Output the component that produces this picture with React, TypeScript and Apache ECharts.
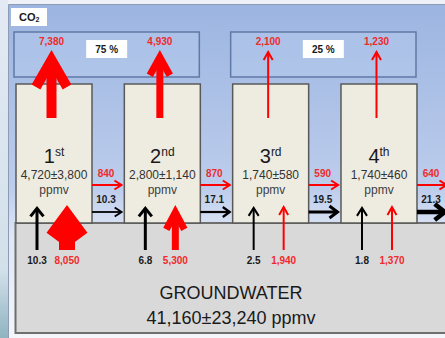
import React, { useEffect, useRef } from "react";
import * as echarts from "echarts";

// ---- data ----
const stageNumbers = ["1", "2", "3", "4"];
const stageSuffixes = ["st", "nd", "rd", "th"];
const stageMeanPpmv = [4720, 2800, 1740, 1740];
const stageSdPpmv = [3800, 1140, 580, 460];
const emissionCO2 = [7380, 4930, 2100, 1230];
const groundFlow = [10.3, 6.8, 2.5, 1.8];
const groundCO2 = [8050, 5300, 1940, 1370];
const transferFlow = [10.3, 17.1, 19.5, 21.3];
const transferCO2 = [840, 870, 590, 640];
const groupShares = [75, 25];
const groundwaterMean = 41160;
const groundwaterSd = 23240;
const gasLabel = "CO";
const gasSub = "2";

// ---- layout ----
const W = 445;
const H = 338;
const FONT = "'Liberation Sans', Arial, sans-serif";
const X0 = 16;
const STEP = 108.33;
const BOX_W = 76;
const BOX_TOP = 84;
const GROUND_TOP = 223;
const RED = "#ff0000";
const RED_TXT = "#f02a2a";

const fmt = (v: number) => v.toLocaleString("en-US");
const stageLeft = (i: number) => X0 + i * STEP;

function txt(api: any, x: number, y: number, text: string, fill: string, font: string, align = "center") {
  const c = api.coord([x, y]);
  return {
    type: "text",
    x: c[0],
    y: c[1],
    style: {
      text,
      fill,
      font,
      align,
      textAlign: align,
      verticalAlign: "middle",
      textVerticalAlign: "middle",
    },
  };
}

function arrow(api: any, from: number[], to: number[], w: number, armLen: number, armHalf: number, color: string) {
  const dx = to[0] - from[0];
  const dy = to[1] - from[1];
  const len = Math.hypot(dx, dy);
  const ux = dx / len;
  const uy = dy / len;
  const nx = -uy;
  const ny = ux;
  const half = Math.atan2(armHalf, armLen);
  const ext = w / 2 / Math.sin(half);
  const apex = [to[0] - ux * ext, to[1] - uy * ext];
  const base = [apex[0] - ux * armLen, apex[1] - uy * armLen];
  const a1 = [base[0] + nx * armHalf, base[1] + ny * armHalf];
  const a2 = [base[0] - nx * armHalf, base[1] - ny * armHalf];
  const c = (p: number[]) => api.coord(p);
  return [
    {
      type: "polyline",
      shape: { points: [c(from), c(apex)] },
      style: { stroke: color, lineWidth: w, fill: "none", lineCap: "butt" },
    },
    {
      type: "polyline",
      shape: { points: [c(a1), c(apex), c(a2)] },
      style: { stroke: color, lineWidth: w, fill: "none", lineJoin: "miter", miterLimit: 10, lineCap: "butt" },
    },
  ];
}

function redSpec(v: number, kind: "up" | "ground") {
  if (v >= 7000) return kind === "up" ? { w: 10, armLen: 27, armHalf: 15.5 } : { w: 16, armLen: 19, armHalf: 14 };
  if (v >= 4000) return kind === "up" ? { w: 7, armLen: 18, armHalf: 10 } : { w: 7, armLen: 17, armHalf: 9 };
  return { w: 2, armLen: 8, armHalf: 4.5 };
}

function blackTransferSpec(v: number) {
  if (v >= 21) return { w: 4.5, armLen: 10, armHalf: 8 };
  if (v >= 19) return { w: 3, armLen: 8, armHalf: 6 };
  if (v >= 15) return { w: 2.2, armLen: 7, armHalf: 5 };
  return { w: 1.8, armLen: 7, armHalf: 4.5 };
}

function buildOption() {
  const bold10 = `bold 10px ${FONT}`;
  return {
    animation: false,
    grid: { left: 0, top: 0, right: 0, bottom: 0 },
    xAxis: { type: "value", min: 0, max: W, show: false },
    yAxis: { type: "value", min: 0, max: H, inverse: true, show: false },
    graphic: [
      { type: "rect", shape: { x: 0, y: 0, width: W, height: H }, style: { fill: "#eef2f8" } },
      {
        type: "rect",
        shape: { x: 0, y: 0, width: 8, height: H },
        style: {
          fill: new echarts.graphic.LinearGradient(0, 0, 0, 1, [
            { offset: 0, color: "#e3eaf4" },
            { offset: 0.8, color: "#d2e0ea" },
            { offset: 1, color: "#8fb4c0" },
          ]),
        },
      },
      {
        type: "rect",
        shape: { x: 8.5, y: 4.5, width: W, height: H },
        style: {
          fill: new echarts.graphic.LinearGradient(0, 0, 0, 1, [
            { offset: 0, color: "#9cb5e1" },
            { offset: 0.55, color: "#bdcdec" },
            { offset: 0.68, color: "#dfe7f5" },
            { offset: 1, color: "#f4f6fa" },
          ]),
          stroke: "#8d9cb4",
          lineWidth: 1,
        },
      },
      { type: "rect", shape: { x: 11, y: 8, width: 36, height: 18 }, style: { fill: "#ffffff" } },
      {
        type: "text",
        x: 19,
        y: 17,
        style: {
          text: `{a|${gasLabel}}{b|${gasSub}}`,
          verticalAlign: "middle",
          textVerticalAlign: "middle",
          rich: {
            a: { font: `bold 11px ${FONT}`, fill: "#1a1a1a" },
            b: { font: `bold 7px ${FONT}`, fill: "#1a1a1a", verticalAlign: "bottom" },
          },
        },
      },
      {
        type: "rect",
        shape: { x: 15.5, y: GROUND_TOP, width: W, height: 110 },
        style: { fill: "#d9d9d9", stroke: "#6e6e6e", lineWidth: 2 },
      },
      {
        type: "text",
        x: 231,
        y: 293,
        style: {
          text: "GROUNDWATER",
          font: `18px ${FONT}`,
          fill: "#1a1a1a",
          align: "center",
          textAlign: "center",
          verticalAlign: "middle",
          textVerticalAlign: "middle",
        },
      },
      {
        type: "text",
        x: 231,
        y: 318,
        style: {
          text: `${fmt(groundwaterMean)}±${fmt(groundwaterSd)} ppmv`,
          font: `18px ${FONT}`,
          fill: "#1a1a1a",
          align: "center",
          textAlign: "center",
          verticalAlign: "middle",
          textVerticalAlign: "middle",
        },
      },
    ],
    series: [
      {
        type: "custom",
        name: "groups",
        z: 2,
        data: groupShares.map((v, g) => [g, v]),
        renderItem: (params: any, api: any) => {
          const g = api.value(0);
          const share = api.value(1);
          const x1 = stageLeft(2 * g) - 2;
          const x2 = stageLeft(2 * g + 1) + BOX_W - 1;
          const p0 = api.coord([x1, 32]);
          const p1 = api.coord([x2, 77]);
          const cx = (x1 + x2) / 2;
          const q0 = api.coord([cx - 20.5, 40]);
          const q1 = api.coord([cx + 20.5, 58]);
          return {
            type: "group",
            children: [
              {
                type: "rect",
                shape: { x: p0[0], y: p0[1], width: p1[0] - p0[0], height: p1[1] - p0[1] },
                style: { fill: "rgba(190,208,240,0.35)", stroke: "#5f7aa6", lineWidth: 1.5 },
              },
              {
                type: "rect",
                shape: { x: q0[0], y: q0[1], width: q1[0] - q0[0], height: q1[1] - q0[1] },
                style: { fill: "#ffffff" },
              },
              txt(api, cx, 49, `${share} %`, "#1a1a1a", bold10),
            ],
          };
        },
      },
      {
        type: "custom",
        name: "stages",
        z: 2,
        data: stageMeanPpmv.map((v, i) => [i, v, stageSdPpmv[i]]),
        renderItem: (params: any, api: any) => {
          const i = api.value(0);
          const L = stageLeft(i);
          const p0 = api.coord([L, BOX_TOP]);
          const p1 = api.coord([L + BOX_W, GROUND_TOP]);
          const cx = L + BOX_W / 2;
          const oc = api.coord([cx, 156]);
          return {
            type: "group",
            children: [
              {
                type: "rect",
                shape: { x: p0[0], y: p0[1], width: p1[0] - p0[0], height: p1[1] - p0[1] },
                style: { fill: "#eeece1", stroke: "#595959", lineWidth: 1.5 },
              },
              {
                type: "text",
                x: oc[0],
                y: oc[1],
                style: {
                  text: `{n|${stageNumbers[i]}}{s|${stageSuffixes[i]}}`,
                  align: "center",
                  textAlign: "center",
                  verticalAlign: "middle",
                  textVerticalAlign: "middle",
                  rich: {
                    n: { font: `20px ${FONT}`, fill: "#1a1a1a" },
                    s: { font: `12px ${FONT}`, fill: "#1a1a1a", verticalAlign: "top" },
                  },
                },
              },
              txt(api, cx, 175, `${fmt(api.value(1))}±${fmt(api.value(2))}`, "#333333", `12px ${FONT}`),
              txt(api, cx, 190, "ppmv", "#404040", `12px ${FONT}`),
            ],
          };
        },
      },
      {
        type: "custom",
        name: "emission",
        z: 4,
        data: emissionCO2.map((v, i) => [i, v]),
        renderItem: (params: any, api: any) => {
          const i = api.value(0);
          const v = api.value(1);
          const x = stageLeft(i) + 35.5;
          const s = redSpec(v, "up");
          return {
            type: "group",
            children: [
              ...arrow(api, [x, 118], [x, 50], s.w, s.armLen, s.armHalf, RED),
              txt(api, x, 41, fmt(v), RED_TXT, bold10),
            ],
          };
        },
      },
      {
        type: "custom",
        name: "groundInflow",
        z: 4,
        data: groundCO2.map((v, i) => [i, v, groundFlow[i]]),
        renderItem: (params: any, api: any) => {
          const i = api.value(0);
          const v = api.value(1);
          const q = api.value(2);
          const L = stageLeft(i);
          const xb = L + 21;
          const xr = L + 51;
          const s = redSpec(v, "ground");
          const bw = q >= 5 ? 3 : 2;
          return {
            type: "group",
            children: [
              ...arrow(api, [xb, 250], [xb, 206], bw, 8, bw >= 3 ? 6.5 : 5, "#000000"),
              ...arrow(api, [xr, 250], [xr, 205], s.w, s.armLen, s.armHalf, RED),
              txt(api, xb, 260, String(q), "#1a1a1a", bold10),
              txt(api, xr, 260, fmt(v), RED_TXT, bold10),
            ],
          };
        },
      },
      {
        type: "custom",
        name: "transfer",
        z: 4,
        data: transferCO2.map((v, i) => [i, v, transferFlow[i]]),
        renderItem: (params: any, api: any) => {
          const i = api.value(0);
          const v = api.value(1);
          const q = api.value(2);
          const L = stageLeft(i);
          const xa = L + BOX_W;
          const xe = stageLeft(i + 1) - 1;
          const lx = L + 90;
          const b = blackTransferSpec(q);
          return {
            type: "group",
            children: [
              ...arrow(api, [xa, 185], [xe, 185], 2, 7, 4.5, RED),
              ...arrow(api, [xa, 212], [xe, 212], b.w, b.armLen, b.armHalf, "#000000"),
              txt(api, lx, 173, fmt(v), RED_TXT, bold10),
              txt(api, lx, 199, String(q), "#1a1a1a", bold10),
            ],
          };
        },
      },
    ],
  };
}

export default function App() {
  const ref = useRef<HTMLDivElement>(null);
  useEffect(() => {
    document.body.style.margin = "0";
    if (!ref.current) return;
    const chart = echarts.init(ref.current, null, { renderer: "svg" });
    chart.setOption(buildOption() as any);
    return () => chart.dispose();
  }, []);
  return <div ref={ref} style={{ width: W, height: H }} />;
}
